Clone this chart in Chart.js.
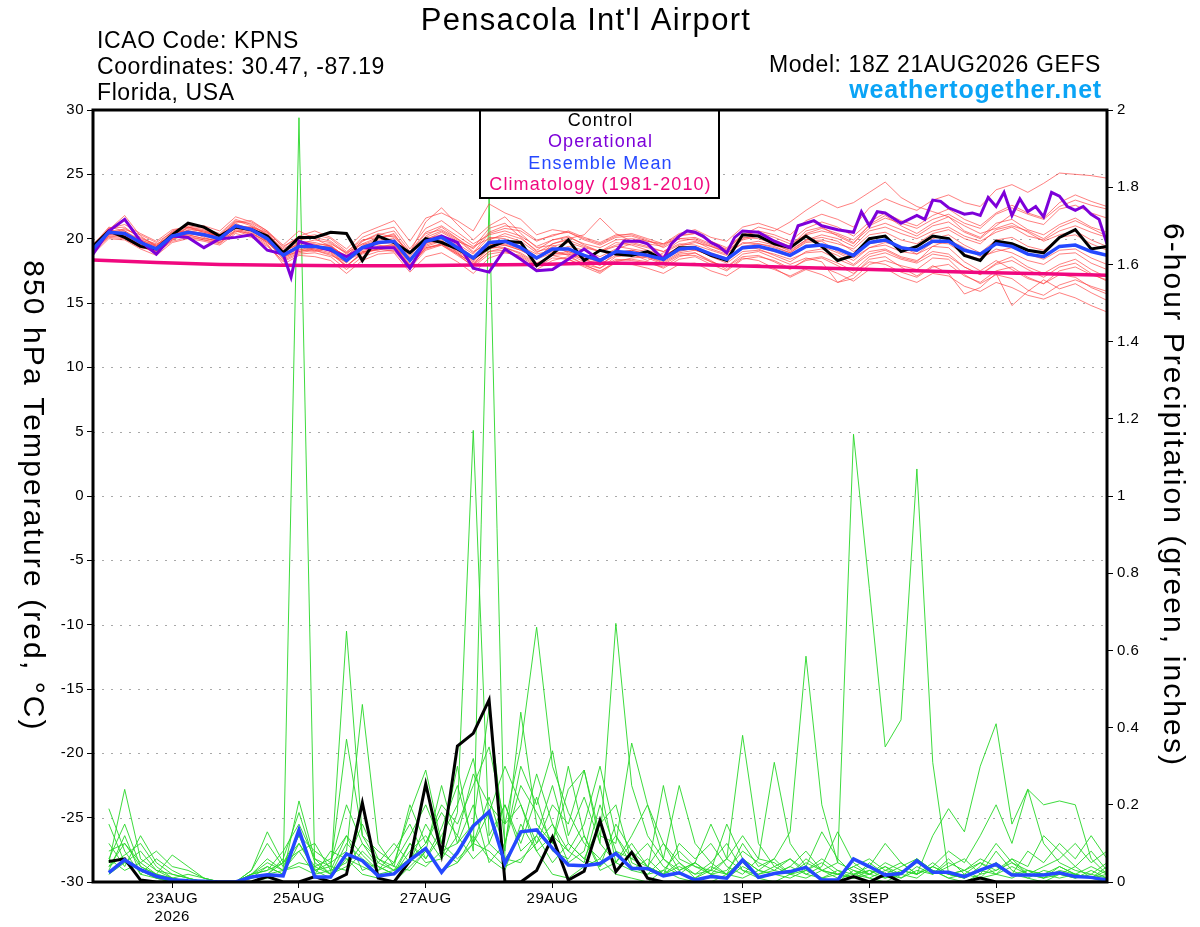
<!DOCTYPE html>
<html>
<head>
<meta charset="utf-8">
<script src="https://cdn.jsdelivr.net/npm/chart.js@4.4.0/dist/chart.umd.min.js"></script>
<style>
  html, body { margin: 0; padding: 0; background: #fff; }
  canvas { display: block; }
</style>
</head>
<body>
<canvas id="meteogram" width="1200" height="927"></canvas>
<script>
// --- x axis: hours after 18Z 21AUG2026 ---
const tickHours = [30, 78, 126, 174, 246, 294, 342];
const tickLabels = [['23AUG', '2026'], '25AUG', '27AUG', '29AUG', '1SEP', '3SEP', '5SEP'];
const tempHours = Array.from({ length: 65 }, (_, i) => i * 6);      // 0 .. 384
const precipHours = Array.from({ length: 64 }, (_, i) => 6 + i * 6); // 6 .. 384

// --- 850 hPa temperature (C) ---
const controlTemp = [
  19.4, 20.6, 20.1, 19.4, 19.2, 20.3, 21.2, 20.9, 20.2, 20.9, 20.7, 20.2, 18.9,
  20.1, 20.1, 20.5, 20.4, 18.3, 20.2, 19.7, 18.9, 20.0, 19.7, 19.2, 18.5, 19.3,
  19.8, 19.7, 17.9, 18.8, 19.9, 18.3, 19.1, 18.8, 18.7, 19.0, 18.4, 19.3, 19.3,
  18.7, 18.3, 20.3, 20.2, 19.6, 19.3, 20.2, 19.4, 18.3, 18.7, 20.0, 20.2, 19.0,
  19.4, 20.2, 20.0, 18.7, 18.3, 19.8, 19.6, 19.1, 18.9, 20.1, 20.7, 19.2, 19.4
];
const meanTemp = [
  19.2, 20.5, 20.4, 19.7, 19.2, 20.2, 20.5, 20.3, 20.0, 21.0, 20.7, 20.0, 18.7,
  19.4, 19.4, 19.2, 18.3, 19.3, 19.7, 19.8, 18.3, 19.8, 20.1, 19.3, 18.5, 19.7,
  19.8, 19.3, 18.5, 19.2, 19.2, 18.7, 18.3, 19.0, 18.9, 18.7, 18.4, 19.2, 19.3,
  18.8, 18.4, 19.3, 19.4, 19.1, 18.7, 19.4, 19.5, 19.2, 18.7, 19.7, 19.9, 19.3,
  19.1, 19.8, 19.8, 19.1, 18.8, 19.6, 19.4, 18.8, 18.6, 19.4, 19.5, 19.0, 18.7
];
// operational run has extra 3-hourly detail
const operHours = [
  0, 6, 12, 18, 24, 30, 36, 42, 48, 54, 60, 66, 72, 75, 78, 84, 90, 96, 102, 108,
  114, 120, 126, 132, 138, 144, 150, 156, 162, 168, 174, 180, 186, 192, 198, 201,
  207, 210, 216, 219, 222, 225, 228, 231, 234, 237, 240, 243, 246, 252, 258, 264,
  267, 273, 276, 282, 288, 291, 294, 297, 300, 306, 312, 315, 318, 321, 324, 330,
  333, 336, 339, 342, 345, 348, 351, 354, 357, 360, 363, 366, 369, 372, 375, 378,
  381, 384
];
const operTemp = [
  18.8, 20.6, 21.5, 19.8, 18.8, 20.2, 20.1, 19.3, 20.0, 20.1, 20.3, 19.1, 18.8, 17.0,
  19.8, 19.4, 19.1, 18.6, 19.3, 19.3, 19.3, 17.7, 19.8, 20.2, 19.7, 17.7, 17.4, 19.2,
  18.4, 17.5, 17.6, 18.4, 19.2, 18.3, 19.0, 19.8, 19.8, 19.6, 18.4, 19.6, 20.2, 20.6,
  20.5, 20.2, 19.7, 19.4, 18.9, 20.1, 20.6, 20.5, 19.8, 19.3, 21.0, 21.4, 21.0, 20.7,
  20.5, 22.1, 21.0, 22.1, 22.0, 21.2, 21.8, 21.5, 23.0, 22.9, 22.4, 21.9, 22.0, 21.8,
  23.2, 22.5, 23.6, 21.8, 23.1, 22.1, 22.5, 21.7, 23.6, 23.3, 22.5, 22.2, 22.5, 21.9,
  21.5, 19.6
];
const climHours = [0, 24, 48, 72, 96, 120, 144, 168, 192, 216, 240, 264, 288, 312, 336, 360, 384];
const climTemp = [18.35, 18.15, 18.0, 17.93, 17.9, 17.9, 17.95, 18.0, 18.1, 18.05, 17.92, 17.78, 17.64, 17.5, 17.38, 17.27, 17.15];

const tempMembers = [
  [19.5, 20.9, 20.6, 19.9, 19.5, 20.6, 21.0, 20.8, 20.4, 21.5, 21.1, 20.3, 19.2,
   19.9, 20.1, 19.8, 18.9, 20.1, 20.6, 20.9, 19.2, 20.8, 21.4, 20.5, 19.6, 20.3,
   20.6, 20.2, 19.4, 19.9, 20.1, 19.6, 19.3, 19.9, 20.0, 19.8, 19.6, 20.4, 20.7,
   20.1, 19.8, 20.9, 21.2, 20.8, 20.3, 21.4, 21.9, 21.5, 20.9, 22.4, 23.1, 22.6,
   22.2, 23.0, 23.4, 22.8, 22.5, 23.8, 24.2, 23.6, 24.3, 25.1, 25.0, 24.9, 24.7],
  [19.0, 20.2, 20.1, 19.4, 18.9, 19.8, 20.1, 19.9, 19.6, 20.6, 20.2, 19.5, 18.2,
   18.8, 18.9, 18.6, 17.6, 18.6, 19.0, 19.1, 17.7, 19.1, 19.5, 18.7, 17.9, 19.0,
   19.1, 18.6, 17.8, 18.5, 18.4, 17.9, 17.5, 18.1, 18.0, 17.7, 17.3, 18.0, 18.1,
   17.5, 17.1, 17.9, 18.0, 17.6, 17.1, 17.7, 17.8, 17.3, 16.7, 17.6, 17.7, 17.0,
   16.6, 17.3, 17.1, 16.3, 15.9, 16.6, 16.2, 15.6, 15.3, 15.8, 15.4, 14.8, 14.3],
  [19.3, 20.7, 21.8, 20.2, 19.4, 20.0, 20.9, 20.7, 20.1, 21.3, 21.4, 20.6, 19.5,
   20.6, 20.0, 19.4, 18.6, 19.8, 20.4, 20.1, 18.9, 21.3, 22.4, 21.1, 19.9, 21.0,
   21.7, 20.4, 19.3, 19.5, 18.9, 18.4, 18.0, 18.7, 18.8, 18.3, 18.9, 19.5, 19.8,
   19.2, 18.8, 20.0, 20.3, 19.9, 19.4, 20.6, 20.9, 20.2, 19.6, 21.1, 21.8, 21.0,
   20.4, 21.2, 21.7, 20.6, 20.1, 21.2, 21.5, 20.7, 20.3, 21.1, 21.6, 20.9, 20.5],
  [19.1, 20.3, 20.5, 19.6, 19.0, 20.3, 20.8, 20.5, 20.2, 21.2, 20.6, 19.8, 18.4,
   19.0, 19.3, 19.5, 18.5, 19.1, 19.3, 19.6, 18.0, 19.4, 19.8, 19.0, 18.2, 19.9,
   20.4, 20.0, 19.1, 19.9, 20.2, 19.5, 19.0, 19.4, 19.2, 19.0, 18.5, 19.1, 19.2,
   18.6, 18.1, 19.0, 19.1, 18.8, 18.4, 18.9, 19.0, 18.4, 17.9, 18.8, 19.1, 18.5,
   18.2, 19.4, 19.3, 18.2, 17.5, 18.3, 17.6, 16.9, 16.5, 17.5, 17.8, 17.2, 16.8],
  [19.4, 20.6, 20.3, 19.8, 19.3, 20.4, 20.6, 20.4, 20.0, 20.8, 20.9, 20.1, 18.9,
   19.7, 19.6, 19.0, 18.1, 19.5, 20.0, 20.4, 18.6, 20.2, 20.9, 20.0, 19.0, 19.6,
   19.5, 19.1, 18.4, 19.6, 20.0, 20.3, 21.6, 20.4, 19.8, 19.6, 19.4, 20.2, 20.4,
   19.8, 19.1, 20.3, 20.9, 20.6, 21.3, 22.2, 23.0, 22.4, 22.8, 23.6, 24.4, 23.2,
   22.5, 22.1, 21.7, 21.0, 20.4, 20.8, 21.2, 20.5, 19.8, 20.3, 20.6, 19.9, 19.4],
  [18.9, 20.4, 20.2, 19.5, 18.8, 20.1, 20.2, 19.9, 19.7, 20.7, 20.3, 19.6, 18.0,
   18.7, 18.6, 18.3, 17.3, 18.3, 18.8, 18.9, 17.4, 18.6, 18.9, 18.2, 17.3, 18.5,
   18.9, 18.7, 17.9, 18.7, 18.4, 17.8, 17.3, 18.2, 18.5, 18.6, 18.1, 18.8, 18.9,
   18.3, 17.6, 18.5, 18.3, 17.7, 17.0, 17.6, 17.2, 16.6, 16.9, 18.0, 18.3, 17.9,
   17.6, 18.5, 18.4, 17.2, 16.5, 17.2, 16.9, 16.0, 15.6, 16.4, 16.8, 16.3, 15.9],
  [19.2, 20.8, 20.9, 20.0, 19.6, 20.1, 20.3, 20.0, 19.8, 20.9, 20.5, 19.7, 18.6,
   19.2, 19.0, 19.3, 18.7, 19.6, 19.5, 19.3, 18.4, 20.0, 20.3, 19.6, 18.8, 20.1,
   20.0, 19.4, 18.6, 19.0, 19.4, 19.1, 18.6, 19.2, 19.6, 19.3, 19.0, 19.6, 19.5,
   19.1, 18.7, 19.7, 19.6, 19.3, 18.9, 19.8, 19.9, 19.6, 19.2, 20.3, 20.5, 19.9,
   19.6, 20.4, 20.7, 20.0, 19.6, 20.7, 21.0, 20.6, 20.0, 20.9, 21.4, 20.8, 20.2],
  [19.0, 20.1, 20.0, 19.3, 19.1, 19.9, 20.4, 20.2, 19.9, 20.6, 20.4, 19.8, 18.5,
   19.1, 19.5, 19.0, 17.9, 18.9, 19.4, 19.5, 17.9, 19.5, 19.9, 18.9, 18.0, 19.4,
   19.6, 19.2, 18.4, 18.9, 18.8, 18.2, 17.7, 18.4, 18.3, 18.1, 17.8, 18.6, 18.9,
   18.2, 17.8, 18.8, 19.0, 18.5, 18.0, 18.5, 18.2, 16.6, 17.2, 18.4, 18.6, 17.8,
   17.1, 17.9, 17.3, 15.7, 16.2, 17.3, 14.8, 15.9, 16.8, 16.1, 16.5, 15.8, 15.2],
  [19.6, 20.6, 20.7, 20.3, 19.7, 20.5, 21.1, 21.0, 20.6, 21.7, 21.3, 20.6, 19.3,
   20.2, 20.6, 20.1, 19.2, 20.4, 20.9, 21.4, 19.8, 21.6, 22.0, 21.4, 20.6, 22.7,
   22.0, 21.5, 20.3, 20.7, 20.5, 19.9, 19.5, 20.1, 20.2, 19.8, 19.5, 20.3, 20.4,
   19.8, 19.3, 20.3, 20.5, 20.1, 19.6, 20.3, 20.6, 20.3, 19.7, 20.8, 21.2, 20.7,
   20.2, 21.0, 21.3, 20.5, 20.0, 21.0, 21.9, 21.4, 21.1, 22.3, 22.6, 22.0, 21.6],
  [19.3, 20.5, 20.2, 19.6, 19.1, 20.0, 20.7, 20.6, 20.1, 21.1, 20.8, 20.2, 18.8,
   19.4, 19.2, 18.9, 17.8, 19.0, 19.2, 19.0, 17.8, 19.3, 19.5, 18.8, 18.1, 19.2,
   19.5, 19.1, 18.5, 19.4, 19.7, 19.3, 19.0, 19.7, 19.5, 19.1, 18.7, 19.3, 19.1,
   18.7, 18.3, 19.2, 19.3, 19.0, 18.6, 19.5, 19.4, 18.9, 18.3, 19.3, 19.5, 19.0,
   18.8, 19.7, 19.6, 18.8, 18.4, 19.2, 18.9, 18.3, 18.0, 18.8, 18.9, 18.1, 17.6],
  [19.1, 20.4, 20.6, 19.8, 19.4, 20.5, 20.6, 20.1, 19.7, 20.5, 20.9, 20.5, 19.0,
   19.8, 19.7, 19.4, 18.4, 19.0, 19.1, 19.5, 18.2, 19.9, 20.5, 19.8, 19.3, 20.8,
   21.2, 20.1, 19.0, 19.3, 19.0, 18.5, 18.2, 18.9, 19.1, 18.8, 18.6, 19.4, 19.7,
   19.4, 19.0, 20.1, 20.0, 19.6, 19.0, 19.9, 20.1, 19.8, 19.0, 19.6, 19.8, 19.3,
   19.0, 20.0, 20.3, 19.5, 18.9, 19.9, 20.1, 19.4, 19.1, 20.1, 20.3, 19.6, 19.1],
  [19.4, 20.7, 20.3, 19.5, 19.0, 20.2, 20.4, 20.3, 20.3, 21.0, 20.6, 19.9, 18.6,
   19.3, 19.4, 19.4, 18.6, 19.4, 19.9, 20.0, 18.5, 19.7, 19.8, 19.1, 18.3, 19.3,
   19.3, 18.9, 18.1, 18.7, 18.8, 18.4, 17.9, 18.9, 18.8, 18.6, 18.2, 18.9, 19.1,
   18.8, 18.4, 19.4, 19.6, 19.4, 18.9, 19.7, 19.8, 19.0, 18.5, 19.3, 19.7, 19.4,
   18.8, 19.4, 19.9, 19.3, 18.6, 19.0, 19.3, 18.8, 18.4, 19.1, 19.2, 18.5, 18.0],
  [19.2, 20.3, 20.8, 20.1, 19.5, 20.3, 20.9, 20.6, 20.3, 21.4, 21.0, 20.3, 19.0,
   19.6, 19.9, 19.7, 18.8, 19.8, 20.3, 20.6, 19.0, 20.5, 21.0, 20.2, 19.4, 20.0,
   20.2, 19.8, 18.9, 19.6, 19.9, 19.4, 19.0, 19.5, 19.7, 19.4, 19.0, 19.8, 20.0,
   19.5, 19.0, 19.9, 20.2, 19.8, 19.3, 20.4, 20.8, 20.4, 19.9, 21.0, 21.6, 21.2,
   20.8, 21.5, 21.9, 21.2, 20.8, 21.9, 22.4, 21.9, 21.5, 22.5, 23.0, 22.6, 22.3],
  [18.8, 20.0, 19.9, 19.2, 18.7, 19.7, 20.0, 19.8, 19.5, 20.4, 20.1, 19.4, 18.3,
   18.9, 19.1, 18.8, 17.9, 18.8, 19.2, 19.4, 17.9, 19.2, 19.6, 18.8, 17.8, 18.8,
   19.0, 18.5, 17.6, 18.3, 18.6, 18.0, 17.4, 18.3, 18.4, 18.2, 17.7, 18.4, 18.6,
   18.0, 17.5, 18.4, 18.6, 18.3, 17.7, 18.3, 18.5, 17.9, 17.3, 18.2, 18.0, 17.4,
   17.0, 17.8, 18.0, 17.1, 16.6, 17.5, 17.8, 17.0, 16.5, 17.2, 17.0, 16.2, 15.7],
  [19.3, 20.6, 20.4, 19.9, 19.4, 20.0, 20.5, 20.4, 20.1, 21.0, 20.9, 20.4, 19.1,
   19.5, 19.5, 19.6, 18.9, 19.6, 20.1, 20.2, 18.8, 20.1, 20.6, 19.9, 18.9, 20.4,
   20.8, 20.6, 19.8, 20.3, 20.5, 20.0, 19.6, 20.2, 20.4, 20.0, 19.6, 20.0, 19.9,
   19.4, 18.9, 19.6, 19.8, 19.5, 19.1, 19.9, 20.3, 20.0, 19.4, 20.6, 20.9, 20.4,
   20.0, 20.6, 20.9, 20.2, 19.8, 20.5, 20.9, 20.2, 19.9, 20.6, 21.0, 20.5, 20.1],
  [19.0, 20.5, 20.0, 19.3, 19.2, 20.2, 20.3, 20.0, 19.9, 20.8, 20.4, 19.7, 18.7,
   19.4, 19.1, 18.7, 18.2, 19.2, 19.6, 19.7, 18.2, 19.6, 20.1, 19.5, 18.6, 19.5,
   19.7, 19.4, 18.8, 19.1, 18.7, 18.0, 17.7, 18.6, 18.7, 18.5, 18.0, 18.7, 18.7,
   18.2, 17.8, 18.6, 18.7, 18.2, 17.6, 18.4, 18.6, 18.1, 17.5, 18.6, 18.9, 18.4,
   18.1, 18.8, 18.6, 17.8, 17.2, 18.0, 18.3, 17.6, 17.0, 17.8, 18.1, 17.3, 16.7],
  [19.5, 20.8, 21.1, 20.4, 19.8, 20.7, 20.9, 20.5, 20.2, 21.3, 21.2, 20.5, 19.4,
   20.1, 20.3, 20.0, 19.0, 19.9, 20.1, 20.3, 18.9, 20.4, 20.7, 20.0, 19.2, 20.5,
   21.0, 20.8, 19.9, 20.2, 20.6, 20.1, 19.7, 20.3, 20.3, 19.9, 19.3, 20.0, 20.1,
   19.6, 19.2, 20.2, 20.6, 20.3, 19.8, 20.8, 21.3, 20.9, 20.2, 21.3, 22.0, 21.4,
   21.0, 21.8, 22.3, 21.5, 21.0, 22.0, 22.6, 22.0, 21.6, 22.8, 23.4, 22.9, 22.5],
  [19.1, 20.2, 20.3, 19.5, 18.9, 19.9, 20.6, 20.4, 20.0, 20.9, 20.6, 19.9, 18.6,
   19.0, 19.2, 19.1, 18.3, 18.9, 19.2, 19.2, 17.9, 19.3, 19.6, 18.9, 18.0, 19.0,
   19.3, 18.8, 18.0, 18.8, 19.0, 18.6, 18.2, 18.9, 19.1, 18.8, 18.4, 19.0, 19.3,
   18.9, 18.5, 19.4, 19.2, 18.7, 18.2, 19.0, 19.2, 18.7, 18.0, 19.0, 19.2, 18.6,
   18.3, 19.0, 18.8, 17.8, 17.2, 18.1, 18.6, 17.8, 17.3, 18.0, 18.4, 17.6, 17.0]
];

// --- 6-hour precipitation (inches) ---
const controlPrecip = [
  0.053, 0.06, 0.005, 0, 0, 0, 0, 0, 0, 0, 0.014, 0, 0, 0.014, 0, 0.02,
  0.205, 0.01, 0, 0.055, 0.254, 0.072, 0.352, 0.385, 0.472, 0, 0, 0.03, 0.116, 0.005, 0.028, 0.159,
  0.027, 0.077, 0.01, 0, 0, 0, 0, 0, 0, 0, 0, 0, 0, 0, 0, 0.014,
  0, 0.02, 0, 0, 0, 0, 0, 0.01, 0, 0, 0, 0, 0, 0, 0, 0
];
const meanPrecip = [
  0.024, 0.057, 0.032, 0.015, 0.006, 0.003, 0.002, 0, 0, 0.013, 0.019, 0.016, 0.135, 0.013, 0.013, 0.073,
  0.055, 0.016, 0.021, 0.057, 0.087, 0.025, 0.076, 0.145, 0.182, 0.048, 0.13, 0.135, 0.087, 0.044, 0.042, 0.048,
  0.074, 0.035, 0.035, 0.016, 0.024, 0.005, 0.014, 0.01, 0.057, 0.012, 0.022, 0.027, 0.038, 0.005, 0.005, 0.06,
  0.04, 0.018, 0.022, 0.055, 0.025, 0.025, 0.014, 0.031, 0.046, 0.018, 0.018, 0.018, 0.024, 0.014, 0.012, 0.005
];
const precipMembers = [
  [0.02, 0.05, 0.03, 0.01, 0, 0, 0, 0, 0, 0, 0.01, 0.02, 1.98, 0.03, 0.01, 0.06,
   0.02, 0.01, 0, 0.04, 0.08, 0.03, 0.05, 0.12, 0.06, 0.03, 0.15, 0.08, 0.02, 0.01, 0.04, 0.06,
   0.02, 0.01, 0, 0.03, 0.01, 0, 0, 0.02, 0.05, 0.01, 0, 0.02, 0.04, 0.01, 0, 0.03,
   0.01, 0, 0.02, 0.06, 0.03, 0.01, 0, 0.02, 0.08, 0.03, 0.01, 0, 0.02, 0.04, 0.01, 0],
  [0.19, 0.08, 0.02, 0.01, 0, 0, 0, 0, 0, 0.01, 0.04, 0.02, 0.21, 0.06, 0.02, 0.04,
   0.1, 0.04, 0.02, 0.08, 0.12, 0.06, 0.18, 1.17, 0.12, 0.2, 0.1, 0.22, 0.08, 0.06, 0.12, 0.03,
   0.05, 0.1, 0.04, 0.02, 0.05, 0.01, 0.03, 0.02, 0.06, 0.03, 0.02, 0.01, 0.03, 0.05, 0.02, 0.01,
   0.03, 0.02, 0.01, 0.04, 0.02, 0.06, 0.02, 0.01, 0.05, 0.02, 0.03, 0.01, 0.04, 0.02, 0.01, 0.03],
  [0.05, 0.24, 0.06, 0.03, 0.01, 0, 0, 0, 0, 0, 0.02, 0.05, 0.08, 0.02, 0.03, 0.12,
   0.07, 0.03, 0.05, 0.12, 0.2, 0.1, 0.3, 0.08, 1.77, 0.06, 0.05, 0.12, 0.25, 0.1, 0.06, 0.04,
   0.08, 0.03, 0.02, 0.06, 0.02, 0.01, 0.04, 0.02, 0.01, 0.03, 0.06, 0.02, 0.01, 0.03, 0.02, 0.04,
   0.02, 0.01, 0.03, 0.02, 0.05, 0.02, 0.01, 0.03, 0.02, 0.06, 0.02, 0.01, 0.02, 0.01, 0.03, 0.01],
  [0.1, 0.04, 0.12, 0.05, 0.02, 0.01, 0, 0, 0, 0.02, 0.06, 0.03, 0.05, 0.04, 0.02, 0.65,
   0.12, 0.05, 0.03, 0.06, 0.1, 0.18, 0.12, 0.28, 0.2, 0.15, 0.35, 0.66, 0.3, 0.18, 0.1, 0.06,
   0.12, 0.04, 0.02, 0.03, 0.08, 0.04, 0.02, 0.01, 0.04, 0.02, 0.03, 0.06, 0.03, 0.01, 0.02, 0.01,
   0.02, 0.04, 0.01, 0.03, 0.02, 0.05, 0.03, 0.01, 0.02, 0.04, 0.02, 0.01, 0.03, 0.02, 0.04, 0.02],
  [0.03, 0.12, 0.02, 0.06, 0.03, 0.01, 0, 0, 0, 0.03, 0.1, 0.04, 0.12, 0.03, 0.05, 0.08,
   0.46, 0.1, 0.04, 0.03, 0.08, 0.25, 0.1, 0.15, 0.45, 0.1, 0.3, 0.2, 0.34, 0.12, 0.22, 0.1,
   0.67, 0.25, 0.12, 0.06, 0.03, 0.05, 0.15, 0.06, 0.03, 0.01, 0.02, 0.04, 0.02, 0.01, 0.03, 0.02,
   0.01, 0.03, 0.02, 0.01, 0.04, 0.02, 0.03, 0.05, 0.02, 0.01, 0.03, 0.02, 0.01, 0.02, 0.01, 0.04],
  [0.06, 0.15, 0.04, 0.02, 0.07, 0.04, 0.01, 0, 0, 0.02, 0.03, 0.08, 0.15, 0.06, 0.04, 0.37,
   0.12, 0.08, 0.05, 0.18, 0.29, 0.1, 0.06, 0.1, 0.22, 0.08, 0.44, 0.15, 0.1, 0.24, 0.29, 0.12,
   0.1, 0.36, 0.2, 0.1, 0.05, 0.02, 0.03, 0.06, 0.38, 0.1, 0.04, 0.02, 0.05, 0.03, 0.01, 0.02,
   0.03, 0.01, 0.02, 0.05, 0.03, 0.02, 0.01, 0.04, 0.1, 0.05, 0.03, 0.02, 0.04, 0.02, 0.01, 0.02],
  [0.04, 0.07, 0.1, 0.04, 0.01, 0, 0, 0, 0, 0.01, 0.02, 0.06, 0.18, 0.05, 0.02, 0.1,
   0.06, 0.03, 0.08, 0.15, 0.06, 0.12, 0.2, 0.32, 0.1, 0.06, 0.12, 0.28, 0.15, 0.08, 0.05, 0.2,
   0.08, 0.06, 0.1, 0.04, 0.02, 0.05, 0.02, 0.03, 0.08, 0.05, 0.03, 0.02, 0.06, 0.03, 0.05, 1.16,
   0.76, 0.35, 0.42, 1.07, 0.31, 0.02, 0.01, 0.03, 0.05, 0.02, 0.01, 0.03, 0.02, 0.01, 0.02, 0.01],
  [0.15, 0.05, 0.08, 0.03, 0.02, 0.01, 0, 0, 0, 0.02, 0.05, 0.03, 0.08, 0.1, 0.03, 0.05,
   0.15, 0.06, 0.03, 0.1, 0.06, 0.14, 0.25, 0.1, 0.18, 0.3, 0.2, 0.1, 0.15, 0.05, 0.08, 0.25,
   0.05, 0.12, 0.2, 0.06, 0.25, 0.1, 0.05, 0.02, 0.1, 0.04, 0.06, 0.13, 0.585, 0.2, 0.05, 0.03,
   0.02, 0.05, 0.03, 0.02, 0.12, 0.19, 0.13, 0.3, 0.41, 0.15, 0.24, 0.1, 0.05, 0.03, 0.02, 0.05],
  [0.08, 0.1, 0.05, 0.02, 0.01, 0.02, 0.01, 0, 0, 0.03, 0.13, 0.05, 0.1, 0.04, 0.06, 0.12,
   0.03, 0.05, 0.1, 0.05, 0.15, 0.08, 0.1, 0.2, 0.05, 0.1, 0.25, 0.18, 0.1, 0.3, 0.12, 0.04,
   0.15, 0.08, 0.04, 0.1, 0.03, 0.05, 0.02, 0.06, 0.12, 0.06, 0.31, 0.1, 0.04, 0.13, 0.06, 0.02,
   0.04, 0.1, 0.05, 0.02, 0.04, 0.08, 0.05, 0.12, 0.2, 0.1, 0.24, 0.2, 0.21, 0.2, 0.06, 0.02],
  [0.02, 0.06, 0.03, 0.01, 0, 0, 0, 0, 0, 0.01, 0.02, 0.03, 0.04, 0.02, 0.08, 0.06,
   0.04, 0.02, 0.03, 0.06, 0.04, 0.08, 0.05, 0.1, 0.08, 0.04, 0.06, 0.1, 0.2, 0.15, 0.29, 0.1,
   0.05, 0.03, 0.06, 0.02, 0.04, 0.02, 0.05, 0.1, 0.03, 0.02, 0.04, 0.06, 0.02, 0.04, 0.13, 0.05,
   0.02, 0.04, 0.02, 0.06, 0.02, 0.04, 0.06, 0.02, 0.03, 0.05, 0.02, 0.04, 0.06, 0.1, 0.05, 0.08],
  [0.06, 0.03, 0.05, 0.08, 0.04, 0.03, 0.01, 0, 0, 0.02, 0.04, 0.02, 0.1, 0.03, 0.04, 0.03,
   0.08, 0.04, 0.02, 0.1, 0.05, 0.06, 0.12, 0.06, 0.1, 0.2, 0.08, 0.12, 0.05, 0.1, 0.06, 0.15,
   0.2, 0.05, 0.03, 0.25, 0.06, 0.04, 0.03, 0.15, 0.06, 0.03, 0.02, 0.04, 0.08, 0.03, 0.02, 0.04,
   0.06, 0.03, 0.05, 0.02, 0.04, 0.02, 0.03, 0.06, 0.04, 0.02, 0.08, 0.05, 0.1, 0.06, 0.12, 0.06],
  [0.04, 0.1, 0.04, 0.02, 0.01, 0, 0, 0, 0, 0.02, 0.03, 0.05, 0.12, 0.08, 0.05, 0.2,
   0.1, 0.06, 0.04, 0.2, 0.1, 0.2, 0.15, 0.25, 0.35, 0.15, 0.2, 0.08, 0.12, 0.08, 0.15, 0.3,
   0.12, 0.06, 0.04, 0.02, 0.1, 0.06, 0.1, 0.04, 0.02, 0.06, 0.05, 0.02, 0.03, 0.06, 0.03, 0.01,
   0.05, 0.02, 0.04, 0.06, 0.03, 0.01, 0.02, 0.05, 0.03, 0.06, 0.04, 0.12, 0.08, 0.04, 0.08, 0.03]
];

// --- colours ---
const RED = 'rgba(255, 60, 60, 0.65)';
const GREEN = 'rgba(40, 215, 40, 0.9)';
const CONTROL = '#000000';
const OPER = '#7d00d9';
const MEAN = '#2548ff';
const CLIM = '#f0087f';

const FONT = '"Liberation Sans", Arial, Helvetica, sans-serif';
Chart.defaults.font.family = FONT;
Chart.defaults.color = '#000';

function pts(hours, vals) {
  return vals.map((v, k) => ({ x: hours[k], y: v }));
}

function line(data, color, width, axis, order) {
  return {
    data: data, borderColor: color, borderWidth: width, yAxisID: axis,
    pointRadius: 0, fill: false, tension: 0, order: order
  };
}

const datasets = [];
precipMembers.forEach(m => datasets.push(line(pts(precipHours, m), GREEN, 1, 'yP', 7)));
tempMembers.forEach(m => datasets.push(line(pts(tempHours, m), RED, 1, 'y', 6)));
datasets.push(line(pts(climHours, climTemp), CLIM, 3.5, 'y', 5));
datasets.push(line(pts(precipHours, controlPrecip), CONTROL, 3, 'yP', 4));
datasets.push(line(pts(precipHours, meanPrecip), MEAN, 3.5, 'yP', 3));
datasets.push(line(pts(tempHours, controlTemp), CONTROL, 3, 'y', 2));
datasets.push(line(pts(operHours, operTemp), OPER, 3, 'y', 1.5));
datasets.push(line(pts(tempHours, meanTemp), MEAN, 3.5, 'y', 1));

function spaced(ctx, font, spacing) {
  ctx.font = font;
  ctx.letterSpacing = spacing + 'px';
}

const decor = {
  id: 'decor',
  beforeDraw(chart) {
    chart.ctx.letterSpacing = '0.5px';
  },
  beforeDatasetsDraw(chart) {
    // dotted gray grid for the temperature axis
    const { ctx, chartArea: a } = chart;
    const ys = chart.scales.y;
    ctx.save();
    ctx.strokeStyle = '#a8a8a8';
    ctx.lineWidth = 1;
    ctx.setLineDash([2, 7]);
    ys.ticks.forEach(t => {
      if (t.value <= ys.min || t.value >= ys.max) return;
      const y = Math.round(ys.getPixelForValue(t.value)) + 0.5;
      ctx.beginPath();
      ctx.moveTo(a.left, y);
      ctx.lineTo(a.right, y);
      ctx.stroke();
    });
    ctx.restore();
  },
  afterDatasetsDraw(chart) {
    const { ctx, chartArea: a } = chart;
    ctx.save();
    // legend box
    const bx = 480, bw = 239, by = a.top, bh = 88;
    ctx.fillStyle = '#fff';
    ctx.fillRect(bx, by, bw, bh);
    ctx.strokeStyle = '#000';
    ctx.lineWidth = 2;
    ctx.strokeRect(bx, by, bw, bh);
    spaced(ctx, '18px ' + FONT, 1.1);
    ctx.textAlign = 'center';
    ctx.textBaseline = 'middle';
    const rows = [['Control', CONTROL], ['Operational', OPER], ['Ensemble Mean', MEAN], ['Climatology (1981-2010)', CLIM]];
    rows.forEach((r, k) => {
      ctx.fillStyle = r[1];
      ctx.fillText(r[0], bx + bw / 2 + 1, by + 11 + k * 21.5);
    });
    // plot frame
    ctx.lineWidth = 3;
    ctx.strokeStyle = '#000';
    ctx.strokeRect(a.left, a.top, a.right - a.left, a.bottom - a.top);
    ctx.restore();
  },
  afterDraw(chart) {
    const ctx = chart.ctx;
    ctx.save();
    ctx.fillStyle = '#000';
    ctx.textBaseline = 'alphabetic';

    ctx.textAlign = 'center';
    spaced(ctx, '31px ' + FONT, 1.3);
    ctx.fillText("Pensacola Int'l Airport", 586, 30);

    ctx.textAlign = 'left';
    spaced(ctx, '23px ' + FONT, 0.6);
    ctx.fillText('ICAO Code: KPNS', 97, 48);
    ctx.fillText('Coordinates: 30.47, -87.19', 97, 74);
    ctx.fillText('Florida, USA', 97, 100);

    ctx.textAlign = 'right';
    ctx.fillText('Model: 18Z 21AUG2026 GEFS', 1101, 72);
    spaced(ctx, 'bold 25px ' + FONT, 0.8);
    ctx.fillStyle = '#0aa4f6';
    ctx.fillText('weathertogether.net', 1102, 98);

    // axis titles, both read top to bottom
    ctx.fillStyle = '#000';
    ctx.textAlign = 'center';
    ctx.textBaseline = 'middle';
    spaced(ctx, '30px ' + FONT, 2.1);
    ctx.save();
    ctx.translate(32, 496);
    ctx.rotate(Math.PI / 2);
    ctx.fillText('850 hPa Temperature (red, \u00B0C)', 0, 0);
    ctx.restore();
    ctx.save();
    ctx.translate(1172, 495);
    ctx.rotate(Math.PI / 2);
    ctx.fillText('6-hour Precipitation (green, inches)', 0, 0);
    ctx.restore();
    ctx.restore();
  }
};

const tickGrid = {
  drawOnChartArea: false, drawTicks: true, tickLength: 6,
  tickColor: '#000', tickWidth: 1, color: '#000'
};

new Chart(document.getElementById('meteogram'), {
  type: 'line',
  data: { datasets: datasets },
  options: {
    responsive: false,
    animation: false,
    devicePixelRatio: 1,
    layout: { padding: { top: 110, left: 0, right: 0, bottom: 0 } },
    plugins: { legend: { display: false }, tooltip: { enabled: false } },
    scales: {
      x: {
        type: 'linear', min: 0, max: 384,
        afterBuildTicks: s => { s.ticks = tickHours.map(v => ({ value: v })); },
        afterFit: s => { s.height = 45; },
        ticks: {
          autoSkip: false, maxRotation: 0, padding: 2,
          font: { size: 15 },
          callback: v => tickLabels[tickHours.indexOf(v)]
        },
        grid: tickGrid,
        border: { display: false }
      },
      y: {
        position: 'left', min: -30, max: 30,
        afterFit: s => { s.width = 93; },
        ticks: { stepSize: 5, padding: 3, font: { size: 15 } },
        grid: tickGrid,
        border: { display: false }
      },
      yP: {
        position: 'right', min: 0, max: 2,
        afterFit: s => { s.width = 93; },
        ticks: {
          stepSize: 0.2, padding: 4, font: { size: 15 },
          callback: v => String(+v.toFixed(1))
        },
        grid: tickGrid,
        border: { display: false }
      }
    }
  },
  plugins: [decor]
});
</script>
</body>
</html>
